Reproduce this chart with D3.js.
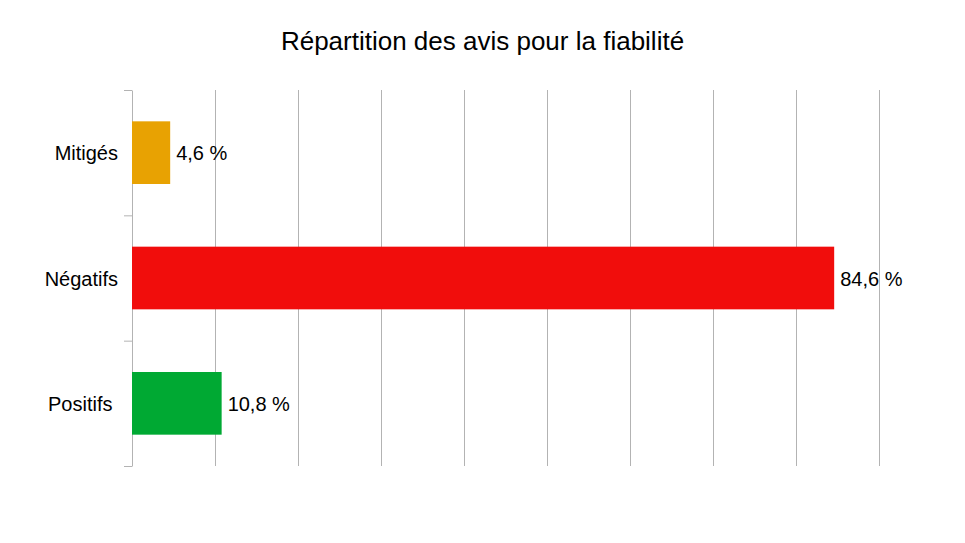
<!DOCTYPE html>
<html>
<head>
<meta charset="utf-8">
<script src="https://d3js.org/d3.v7.min.js"></script>
<style>
  body { margin: 0; background: #fff; }
  text { font-family: "Liberation Sans", Arial, sans-serif; fill: #000; }
</style>
</head>
<body>
<svg id="chart" width="965" height="543"></svg>
<script>
const categories = ["Mitigés", "Négatifs", "Positifs"];
const categoryLabels = ["Mitigés", "Négatifs", "Positifs "];
const values = [4.6, 84.6, 10.8];
const colors = ["#e8a202", "#f10d0c", "#00a933"];
const gridTicks = [10, 20, 30, 40, 50, 60, 70, 80, 90];

const margin = { top: 90, right: 86, bottom: 77, left: 132 };
const svg = d3.select("#chart");
const width = svg.attr("width") - margin.left - margin.right;
const height = svg.attr("height") - margin.top - margin.bottom;
const fmt = (v) => d3.format(".1f")(v).replace(".", ",") + " %";

const g = svg.append("g").attr("transform", `translate(${margin.left},${margin.top})`);

const xScale = d3.scaleLinear().domain([0, 90]).range([0, width]);
const yScale = d3.scaleBand().domain(categories).range([0, height])
  .paddingInner(0.5).paddingOuter(0.25);

svg.append("text")
  .attr("x", 965 / 2)
  .attr("y", 50)
  .attr("text-anchor", "middle")
  .style("font-size", "26px")
  .text("Répartition des avis pour la fiabilité");

// vertical gridlines
const grid = g.append("g")
  .call(d3.axisBottom(xScale).tickValues(gridTicks).tickSize(height).tickFormat(""));
grid.select(".domain").remove();
grid.selectAll("line").attr("stroke", "#b3b3b3");

// left axis with ticks on band edges
const edges = d3.scaleLinear().domain([0, categories.length]).range([0, height]);
const yAxis = g.append("g")
  .call(d3.axisLeft(edges).ticks(categories.length).tickSize(8).tickSizeOuter(0).tickFormat(""));
yAxis.selectAll("line, path").attr("stroke", "#b3b3b3");

// category labels
const labels = g.append("g")
  .call(d3.axisLeft(yScale).tickSize(0).tickPadding(14)
    .tickFormat((d, i) => categoryLabels[i]));
labels.select(".domain").remove();
labels.selectAll("text")
  .style("font-size", "20px")
  .style("white-space", "pre")
  .attr("dy", "0.38em")
  .attr("font-family", null);

const data = categories.map((c, i) => ({ c, v: values[i], color: colors[i] }));

g.selectAll(".bar").data(data).enter().append("rect")
  .attr("class", "bar")
  .attr("x", 0)
  .attr("y", (d) => yScale(d.c))
  .attr("width", (d) => xScale(d.v))
  .attr("height", yScale.bandwidth())
  .attr("fill", (d) => d.color);

g.selectAll(".val").data(data).enter().append("text")
  .attr("class", "val")
  .attr("x", (d) => xScale(d.v) + 6)
  .attr("y", (d) => yScale(d.c) + yScale.bandwidth() / 2)
  .attr("dy", "0.38em")
  .style("font-size", "20px")
  .text((d) => fmt(d.v));
</script>
</body>
</html>
